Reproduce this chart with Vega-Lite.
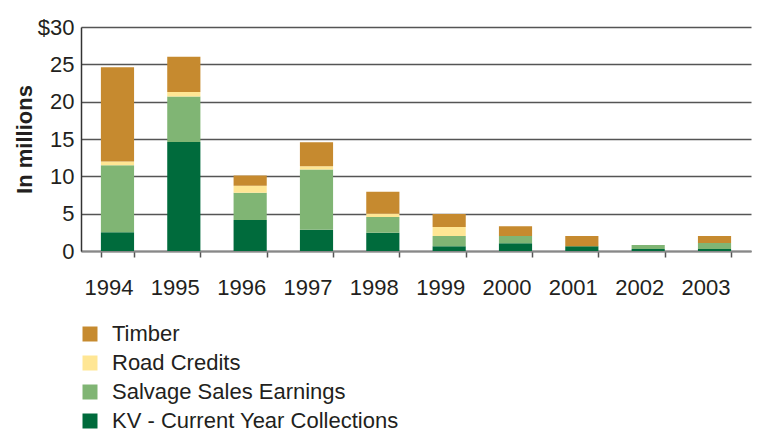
{
  "$schema": "https://vega.github.io/schema/vega-lite/v6.json",
  "width": 670,
  "height": 224,
  "autosize": {"type": "none"},
  "padding": {"left": 81, "top": 27, "right": 12, "bottom": 182},
  "background": "white",
  "config": {
    "font": "Liberation Sans",
    "view": {"stroke": null}
  },
  "data": {
    "values": [
      {"year": "1994", "cat": "KV - Current Year Collections", "v": 2.5, "o": 1},
      {"year": "1994", "cat": "Salvage Sales Earnings", "v": 9.0, "o": 2},
      {"year": "1994", "cat": "Road Credits", "v": 0.5, "o": 3},
      {"year": "1994", "cat": "Timber", "v": 12.6, "o": 4},
      {"year": "1995", "cat": "KV - Current Year Collections", "v": 14.6, "o": 1},
      {"year": "1995", "cat": "Salvage Sales Earnings", "v": 6.1, "o": 2},
      {"year": "1995", "cat": "Road Credits", "v": 0.6, "o": 3},
      {"year": "1995", "cat": "Timber", "v": 4.7, "o": 4},
      {"year": "1996", "cat": "KV - Current Year Collections", "v": 4.15, "o": 1},
      {"year": "1996", "cat": "Salvage Sales Earnings", "v": 3.65, "o": 2},
      {"year": "1996", "cat": "Road Credits", "v": 0.95, "o": 3},
      {"year": "1996", "cat": "Timber", "v": 1.35, "o": 4},
      {"year": "1997", "cat": "KV - Current Year Collections", "v": 2.85, "o": 1},
      {"year": "1997", "cat": "Salvage Sales Earnings", "v": 8.05, "o": 2},
      {"year": "1997", "cat": "Road Credits", "v": 0.45, "o": 3},
      {"year": "1997", "cat": "Timber", "v": 3.2, "o": 4},
      {"year": "1998", "cat": "KV - Current Year Collections", "v": 2.45, "o": 1},
      {"year": "1998", "cat": "Salvage Sales Earnings", "v": 2.1, "o": 2},
      {"year": "1998", "cat": "Road Credits", "v": 0.45, "o": 3},
      {"year": "1998", "cat": "Timber", "v": 2.95, "o": 4},
      {"year": "1999", "cat": "KV - Current Year Collections", "v": 0.65, "o": 1},
      {"year": "1999", "cat": "Salvage Sales Earnings", "v": 1.35, "o": 2},
      {"year": "1999", "cat": "Road Credits", "v": 1.2, "o": 3},
      {"year": "1999", "cat": "Timber", "v": 1.75, "o": 4},
      {"year": "2000", "cat": "KV - Current Year Collections", "v": 1.05, "o": 1},
      {"year": "2000", "cat": "Salvage Sales Earnings", "v": 0.95, "o": 2},
      {"year": "2000", "cat": "Road Credits", "v": 0, "o": 3},
      {"year": "2000", "cat": "Timber", "v": 1.3, "o": 4},
      {"year": "2001", "cat": "KV - Current Year Collections", "v": 0.65, "o": 1},
      {"year": "2001", "cat": "Salvage Sales Earnings", "v": 0, "o": 2},
      {"year": "2001", "cat": "Road Credits", "v": 0, "o": 3},
      {"year": "2001", "cat": "Timber", "v": 1.35, "o": 4},
      {"year": "2002", "cat": "KV - Current Year Collections", "v": 0.27, "o": 1},
      {"year": "2002", "cat": "Salvage Sales Earnings", "v": 0.53, "o": 2},
      {"year": "2002", "cat": "Road Credits", "v": 0, "o": 3},
      {"year": "2002", "cat": "Timber", "v": 0, "o": 4},
      {"year": "2003", "cat": "KV - Current Year Collections", "v": 0.27, "o": 1},
      {"year": "2003", "cat": "Salvage Sales Earnings", "v": 0.8, "o": 2},
      {"year": "2003", "cat": "Road Credits", "v": 0, "o": 3},
      {"year": "2003", "cat": "Timber", "v": 0.93, "o": 4}
    ]
  },
  "mark": {"type": "bar"},
  "encoding": {
    "x": {
      "field": "year",
      "type": "ordinal",
      "scale": {"paddingInner": 0.5, "paddingOuter": 0.3},
      "axis": {
        "title": null,
        "labelAngle": 0,
        "labelFontSize": 22,
        "labelColor": "#231f20",
        "labelPadding": 20,
        "labelOffset": -9,
        "tickBand": "extent",
        "tickSize": 6,
        "tickColor": "#555555",
        "tickWidth": 1.5,
        "domainColor": "#888888",
        "domainWidth": 2
      }
    },
    "y": {
      "field": "v",
      "type": "quantitative",
      "stack": "zero",
      "scale": {"domain": [0, 30]},
      "axis": {
        "title": "In millions",
        "titleFontSize": 22,
        "titleFontWeight": "bold",
        "titleColor": "#231f20",
        "titlePadding": 1,
        "values": [0, 5, 10, 15, 20, 25, 30],
        "labelExpr": "datum.value == 30 ? '$30' : datum.label",
        "labelFontSize": 22,
        "labelColor": "#231f20",
        "labelPadding": 7,
        "ticks": false,
        "grid": true,
        "gridColor": "#555555",
        "gridWidth": 1.5,
        "domainColor": "#333333",
        "domainWidth": 1.5
      }
    },
    "color": {
      "field": "cat",
      "type": "nominal",
      "scale": {
        "domain": ["Timber", "Road Credits", "Salvage Sales Earnings", "KV - Current Year Collections"],
        "range": ["#C68A2F", "#FFE694", "#80B574", "#006B3C"]
      },
      "legend": {
        "title": null,
        "orient": "none",
        "legendX": -2,
        "legendY": 296,
        "direction": "vertical",
        "symbolType": "square",
        "symbolSize": 225,
        "symbolStrokeWidth": 0,
        "symbolOpacity": 1,
        "labelFontSize": 22,
        "labelColor": "#231f20",
        "labelOffset": 11,
        "rowPadding": 7,
        "labelLimit": 500
      }
    },
    "order": {"field": "o", "type": "quantitative"}
  }
}
